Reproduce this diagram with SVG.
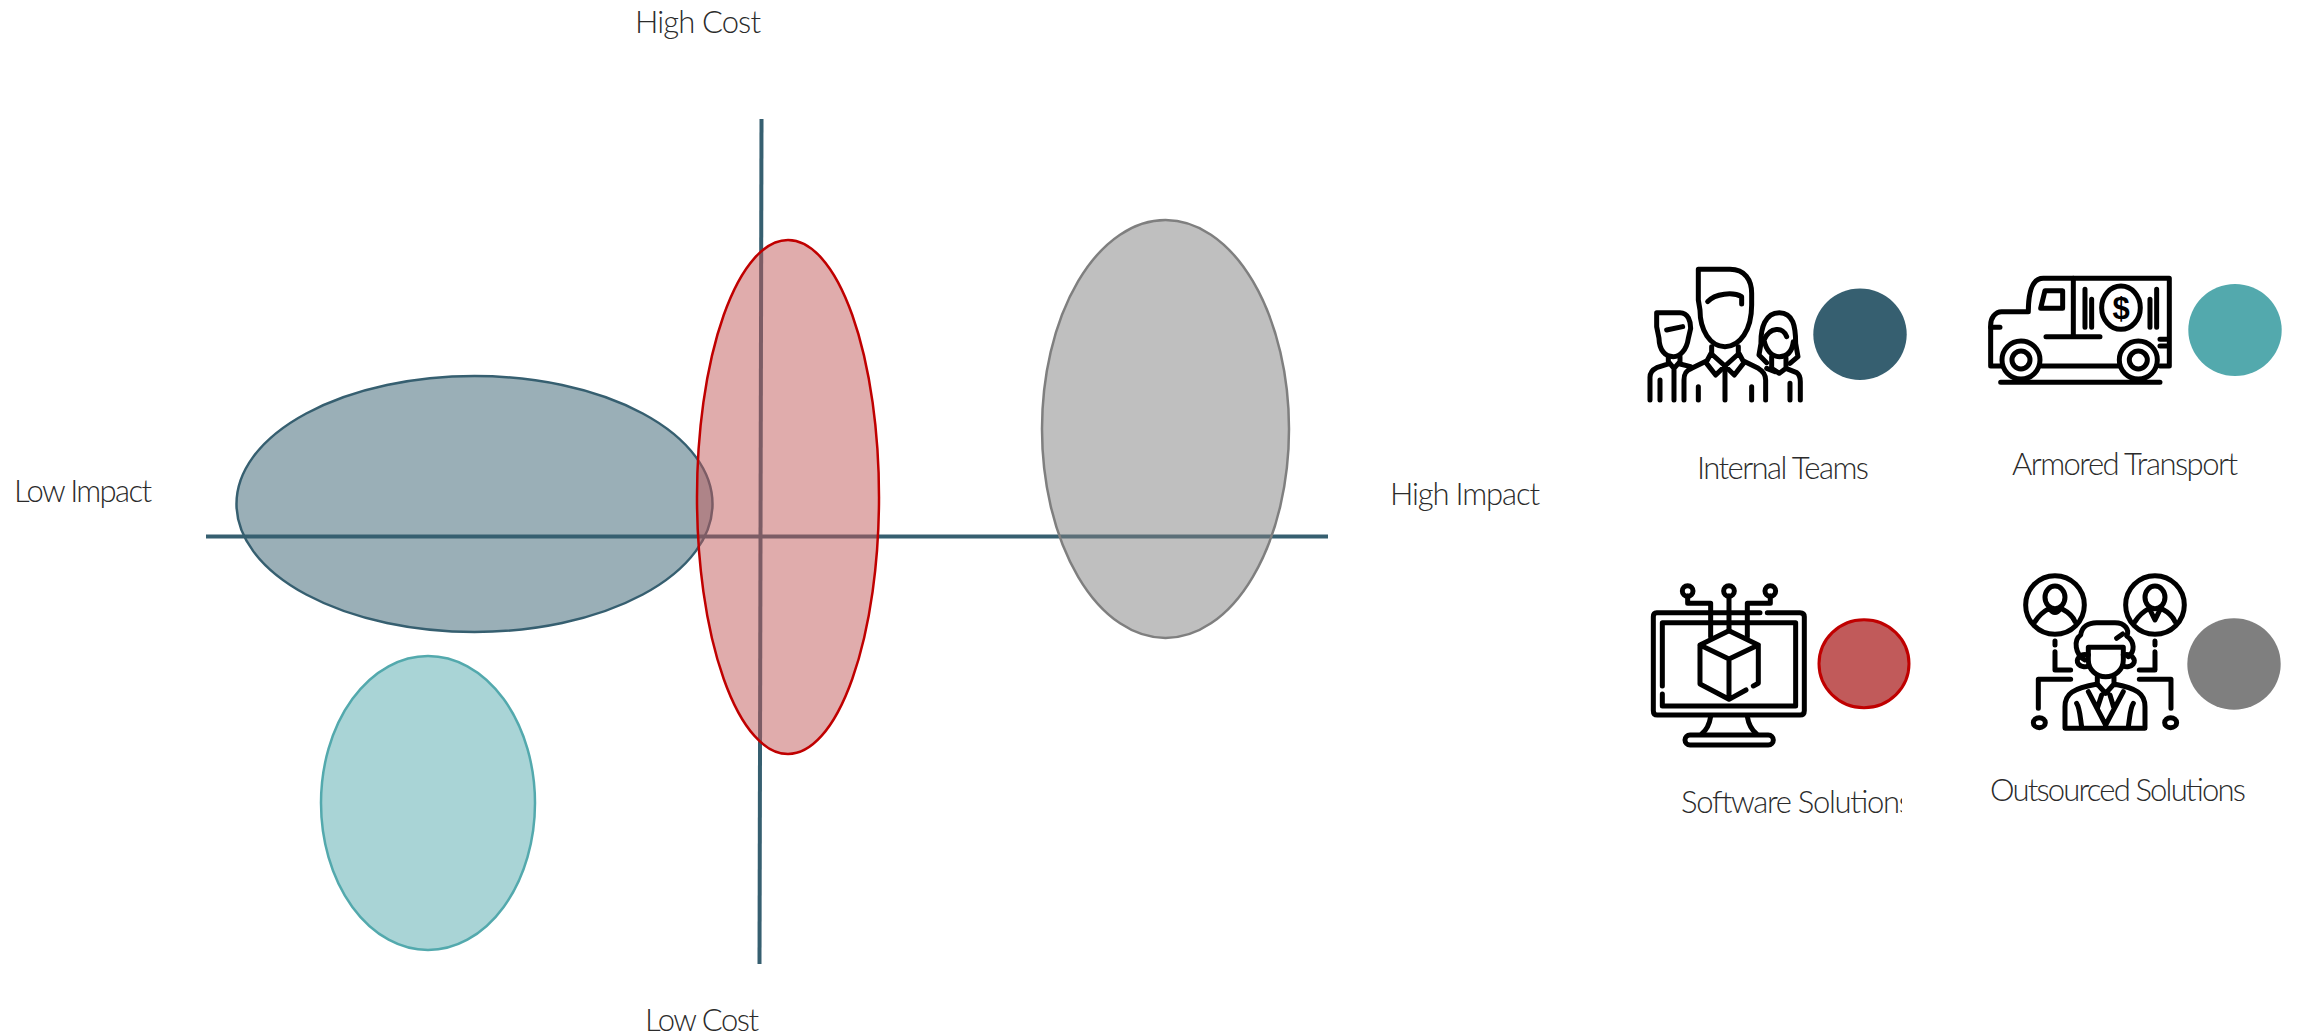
<svg xmlns="http://www.w3.org/2000/svg" width="2305" height="1036" viewBox="0 0 2305 1036">
<style>
.lbl{font-family:"Lato","Open Sans","Liberation Sans",sans-serif;font-weight:300;font-size:31px;fill:#2b2b2b}
.axis{stroke:#365F70;stroke-width:4;fill:none}
.ic{fill:none;stroke:#000;stroke-width:15;stroke-linecap:round;stroke-linejoin:round}
.blob{fill-opacity:.5;stroke-width:2.500}
.blue{fill:#365F70}.teal{fill:#53A9AD}.red{fill:#C15A5A}.gray{fill:#7F7F7F}
</style>
<defs><clipPath id="clipSoft"><rect x="1670" y="775" width="232" height="55"/></clipPath></defs>
<rect width="2305" height="1036" fill="#fff"/>
<g id="connectors">
<path class="axis" d="M206 536.500H1328"/>
<path class="axis" d="M761.500 119L759.500 964"/>
</g>
<g id="node-internal-blob"><ellipse class="blob blue" stroke="#365F70" cx="474.500" cy="504" rx="238" ry="128"/></g>
<g id="node-armored-blob"><ellipse class="blob teal" stroke="#53A9AD" cx="428" cy="803" rx="107" ry="147"/></g>
<g id="node-software-blob"><ellipse class="blob red" stroke="#C00000" cx="788" cy="497" rx="91" ry="257"/></g>
<g id="node-outsourced-blob"><ellipse class="blob gray" stroke="#7F7F7F" cx="1165.500" cy="429" rx="123.500" ry="209"/></g>
<g id="axis-labels">
<text class="lbl" x="635" y="33" textLength="126">High Cost</text>
<text class="lbl" x="645" y="1031" textLength="114">Low Cost</text>
<text class="lbl" x="14" y="502" textLength="138">Low Impact</text>
<text class="lbl" x="1390" y="505" textLength="150">High Impact</text>
</g>
<g id="node-internal-teams">
<g transform="translate(1620 240) scale(.3333)" class="ic">
<path d="M235 88H330C375 88 395 120 395 160V195C395 270 360 320 315 320C270 320 240 270 240 210L235 180Z"/>
<path d="M263 185C285 160 340 155 365 170V192"/>
<path d="M275 320V342L315 378L287 405L258 368L272 342M355 320V342L315 378L343 405L372 368L358 342"/>
<path d="M258 364L215 385C195 392 192 405 192 420V480M372 364L415 385C432 395 437 405 437 420V480M315 380V480M235 440V480M395 440V480"/>
<path d="M110 218H180C205 218 212 245 212 265L205 295C200 330 180 350 160 350C135 350 118 330 117 295L110 260Z"/>
<path d="M140 270L188 260M145 350V365L162 385L180 365V350M145 372L110 383C95 390 90 400 90 412V480M120 420V480M162 385V480M180 372L212 380"/>
<path d="M440 368L417 345L423 310C422 265 435 218 478 218C520 218 527 260 527 310L534 350L510 370"/>
<path d="M432 300C450 260 490 260 500 290M432 300C438 330 455 350 478 350C505 350 517 330 520 305"/>
<path d="M455 350V385L478 400L498 385V355M498 385L530 398C540 405 541 415 541 425V480M510 430V480M440 385L465 395"/>
</g>
<ellipse class="blue" cx="1860" cy="334.300" rx="46.700" ry="45.700"/>
<text class="lbl" x="1697" y="479" textLength="172">Internal Teams</text>
</g>
<g id="node-armored-transport">
<g transform="translate(1960 240) scale(.3333)" class="ic">
<path d="M205 215H125C105 215 92 235 92 255V378H125M245 378H475M600 378H628V115H250C220 115 205 145 205 215"/>
<path d="M255 152H308V205H242ZM340 115V290M258 290H420M122 427H600M92 262H120M600 298H625M600 318H625"/>
<circle cx="183" cy="360" r="57"/><circle cx="183" cy="360" r="27"/>
<circle cx="535" cy="360" r="57"/><circle cx="535" cy="360" r="27"/>
<ellipse cx="483" cy="203" rx="58" ry="65"/>
<path d="M375 148V262M395 178V262M570 178V262M590 148V262"/>
</g>
<text x="2121" y="319" text-anchor="middle" font-family="Liberation Sans, sans-serif" font-weight="700" font-size="31" fill="#000">$</text>
<ellipse class="teal" cx="2235" cy="330" rx="46.700" ry="46"/>
<text class="lbl" x="2012" y="475" textLength="226">Armored Transport</text>
</g>
<g id="node-software-solutions">
<g transform="translate(1620 560) scale(.3333)" class="ic">
<path d="M420 158H110Q100 158 100 170V452Q100 465 112 465H540Q553 465 553 452V170Q553 158 540 158H442"/>
<path d="M127 378V188H527V438H127V402"/>
<path d="M327 212L415 255L327 297L240 255ZM240 255V372L327 418L378 390M400 378L415 370V255M327 297V418"/>
<path d="M272 230V130H203V108M327 212V108M382 230V130H451V108"/>
<circle cx="203" cy="93" r="16"/><circle cx="327" cy="93" r="16"/><circle cx="451" cy="93" r="16"/>
<path d="M272 470C268 495 260 510 245 522M382 470C386 495 395 510 410 522"/>
<rect x="195" y="525" width="265" height="30" rx="15"/>
</g>
<ellipse class="red" stroke="#C00000" stroke-width="3" cx="1864" cy="663.700" rx="45" ry="44"/>
<g clip-path="url(#clipSoft)"><text class="lbl" x="1681" y="813" textLength="231">Software Solutions</text></g>
</g>
<g id="node-outsourced-solutions">
<g transform="translate(1960 560) scale(.3333)" class="ic">
<circle cx="285" cy="135" r="88"/><circle cx="585" cy="135" r="88"/>
<ellipse cx="285" cy="112" rx="30" ry="34"/><ellipse cx="585" cy="112" rx="30" ry="34"/>
<path d="M225 185C240 160 255 152 268 145Q285 170 302 145C315 152 335 160 345 185M525 185C540 160 555 152 568 145L585 180L602 145C615 152 635 160 645 185"/>
<path d="M375 300C345 285 340 240 362 225C365 200 385 188 410 188H465C495 188 510 210 500 228C525 245 525 275 505 290M385 262H490V300C490 330 465 350 437 350C410 350 385 330 385 300Z"/>
<path d="M385 285C360 278 345 300 355 312C362 320 375 322 385 318M490 285C515 278 530 300 520 312C513 320 500 322 490 318M470 235L488 222"/>
<path d="M412 350V375M462 350V375M315 505V440C315 400 340 385 412 372L437 400L462 372C530 385 555 400 555 440V505ZM385 395L437 495L490 395M425 405L412 445M450 405L462 445M350 430C360 445 360 470 365 500M520 430C510 445 510 470 505 500"/>
<path d="M285 243V255M285 275V330H332M585 243V255M585 275V330H538M332 358H235V445M538 358H633V445"/>
<ellipse cx="238" cy="488" rx="18" ry="15"/><ellipse cx="632" cy="488" rx="18" ry="15"/>
</g>
<ellipse class="gray" cx="2234" cy="664" rx="46.700" ry="45.700"/>
<text class="lbl" x="1990" y="801" textLength="256">Outsourced Solutions</text>
</g>
</svg>
